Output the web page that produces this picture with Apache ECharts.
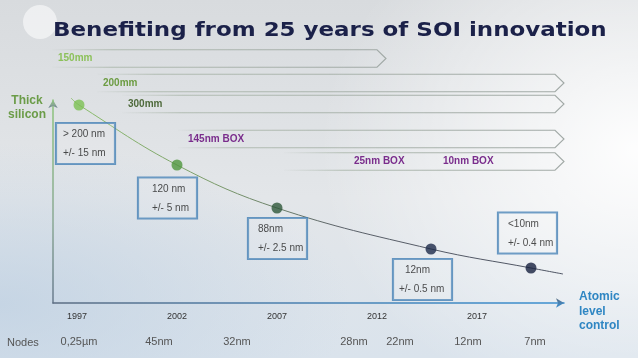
<!DOCTYPE html>
<html><head><meta charset="utf-8">
<script src="https://cdn.jsdelivr.net/npm/echarts@6/dist/echarts.min.js"></script>
<style>
html,body{margin:0;padding:0;width:638px;height:358px;overflow:hidden;}
body{background:
 radial-gradient(ellipse 50% 75% at 100% 42%, rgba(255,255,255,0.95), rgba(255,255,255,0) 100%),
 radial-gradient(ellipse 55% 45% at 0% 85%, rgba(190,208,226,0.75), rgba(190,208,226,0) 100%),
 linear-gradient(180deg,#d8dbde 0%,#e3e6e9 55%,#dae3ec 100%);}
#chart{width:638px;height:358px;}
</style></head><body><div id="chart"></div>
<script>
// ---- data ----
const yearTicks = [1997, 2002, 2007, 2012, 2017];
const milestoneYears = [1997.1, 2002, 2007, 2014.7, 2019.7];
const milestoneLevel = [198, 138, 95, 54, 35];
const milestoneThickness = ['> 200 nm', '120 nm', '88nm', '12nm', '<10nm'];
const milestoneTolerance = ['+/- 15 nm', '+/- 5 nm', '+/- 2.5 nm', '+/- 0.5 nm', '+/- 0.4 nm'];
const curveStart = [1996.7, 205];
const curveEnd = [2021.3, 29];
const nodeLabels = ['0,25µm', '45nm', '32nm', '28nm', '22nm', '12nm', '7nm'];
const nodeYears = [1997.1, 2001.1, 2005.0, 2010.85, 2013.15, 2016.55, 2019.9];
const waferLabels = ['150mm', '200mm', '300mm'];
const waferStart = [1996.05, 1998.3, 1999.55];
const waferEnd = [2012.0, 2020.9, 2020.9];
const boxLabels = ['145nm BOX', '25nm BOX', '10nm BOX'];
const boxStart = [2002.55, 2010.85, 2015.3];
const boxEnd = [2020.9, 2020.9, 2020.9];

// ---- layout / style ----
const FONT = 'Liberation Sans, Arial, sans-serif';
const ROW_Y = [58.5, 83, 104, 139, 161.5];
const ROW_H = 17.5;
const waferRow = [0, 1, 2];
const boxRow = [3, 4, 4];
const boxDrawArrow = [1, 1, 0];
const waferLead = [6, 6, 6];
const boxLead = [10, 70, 0];
const waferColors = ['#8cc15a', '#6c9c42', '#4e6a3b'];
const boxColor = '#7a2d8c';
const pointColors = ['#7cc152', '#4f963d', '#2e573a', '#1d2a4a', '#17203f'];
const boxLayout = [
  {dx: -23, dy: 38.5, i1: 7, i2: 7},
  {dx: -39, dy: 33, i1: 14, i2: 14},
  {dx: -29, dy: 30.5, i1: 10, i2: 10},
  {dx: -38, dy: 30.5, i1: 12, i2: 6},
  {dx: -33, dy: -35, i1: 10, i2: 10}
];

const eraData = [];
waferLabels.forEach((l, i) => eraData.push({value: [waferStart[i], waferEnd[i], waferRow[i], 1, waferLead[i]], name: l, color: waferColors[i]}));
boxLabels.forEach((l, i) => eraData.push({value: [boxStart[i], boxEnd[i], boxRow[i], boxDrawArrow[i], boxLead[i]], name: l, color: boxColor}));

const curveData = [curveStart].concat(milestoneYears.map((y, i) => [y, milestoneLevel[i]])).concat([curveEnd]);
const pointData = milestoneYears.map((y, i) => {
  const b = boxLayout[i];
  return {
    value: [y, milestoneLevel[i]],
    itemStyle: {color: pointColors[i]},
    label: {
      show: true, position: 'inside', align: 'left', verticalAlign: 'middle',
      offset: [b.dx, b.dy], width: 59, height: 38, padding: [2, 0, 1, 0],
      borderColor: '#4581b5', borderWidth: 1.1, backgroundColor: 'rgba(255,255,255,0.12)',
      formatter: '{a|' + milestoneThickness[i] + '}\n{b|' + milestoneTolerance[i] + '}',
      rich: {
        a: {fontSize: 10, color: '#222', lineHeight: 19, fontFamily: FONT, padding: [0, 0, 0, b.i1]},
        b: {fontSize: 10, color: '#222', lineHeight: 19, fontFamily: FONT, padding: [0, 0, 0, b.i2]}
      }
    }
  };
});

const chart = echarts.init(document.getElementById('chart'), null, {renderer: 'canvas'});
const XMIN = 1995.8, XMAX = 2021.35;
chart.setOption({
  animation: false,
  backgroundColor: 'transparent',
  grid: {left: 53, right: 74, top: 100, bottom: 55},
  xAxis: [{
    type: 'value', min: XMIN, max: XMAX,
    axisLine: {show: true, symbol: ['none', 'arrow'], symbolSize: [7, 8],
      lineStyle: {width: 1.5, color: new echarts.graphic.LinearGradient(0, 0, 1, 0, [
        {offset: 0, color: '#5d6d82'}, {offset: 0.45, color: '#4a7fae'}, {offset: 1, color: '#3a8fd0'}])}},
    axisTick: {show: false}, splitLine: {show: false},
    axisLabel: {customValues: yearTicks, color: '#333', fontSize: 9, margin: 9, fontFamily: FONT,
      formatter: v => String(Math.round(v))}
  }, {
    type: 'value', min: XMIN, max: XMAX, position: 'bottom',
    axisLine: {show: false}, axisTick: {show: false}, splitLine: {show: false},
    axisLabel: {customValues: nodeYears, color: '#555', fontSize: 11, margin: 33, fontFamily: FONT,
      formatter: v => {
        let best = 0;
        nodeYears.forEach((y, i) => { if (Math.abs(y - v) < Math.abs(nodeYears[best] - v)) best = i; });
        return nodeLabels[best];
      }}
  }],
  yAxis: {
    type: 'value', min: 0, max: 203,
    axisLine: {show: true, symbol: ['none', 'arrow'], symbolSize: [7, 8],
      lineStyle: {width: 1.5, color: new echarts.graphic.LinearGradient(0, 0, 0, 1, [
        {offset: 0, color: '#8cc47a'}, {offset: 0.6, color: '#8aa894'}, {offset: 1, color: '#66788c'}])}},
    axisTick: {show: false}, axisLabel: {show: false}, splitLine: {show: false}
  },
  series: [{
    type: 'custom', xAxisIndex: 0, yAxisIndex: 0, clip: false, silent: true, z: 1,
    data: eraData,
    renderItem: function (params, api) {
      const s = api.coord([api.value(0), 0])[0];
      const e = api.coord([api.value(1), 0])[0];
      const row = api.value(2);
      const draw = api.value(3);
      const lead = api.value(4);
      const item = eraData[params.dataIndex];
      const y = ROW_Y[row];
      const children = [{
        type: 'text', z2: 5,
        style: {text: item.name, x: s, y: y, align: 'left', verticalAlign: 'middle',
          fill: item.color, font: 'bold 10px ' + FONT}
      }];
      if (draw) {
        const x0 = s - lead;
        const top = y - ROW_H / 2, bot = y + ROW_H / 2;
        const w = e + 9 - x0;
        children.push({
          type: 'polyline', z2: 1,
          shape: {points: [[x0, top], [e, top], [e + 9, y], [e, bot], [x0, bot]]},
          style: {fill: null, lineWidth: 1.1,
            stroke: new echarts.graphic.LinearGradient(0, 0, 1, 0, [
              {offset: 0, color: 'rgba(170,182,170,0)'},
              {offset: Math.min(0.9, 60 / w), color: 'rgba(170,182,170,0.85)'},
              {offset: 1, color: 'rgba(160,168,165,1)'}])}
        });
      }
      return {type: 'group', children: children};
    }
  }, {
    type: 'line', xAxisIndex: 0, yAxisIndex: 0, data: curveData, smooth: 0.4,
    symbol: 'none', clip: false, silent: true, z: 2,
    lineStyle: {width: 1, color: new echarts.graphic.LinearGradient(0, 0, 1, 0, [
      {offset: 0, color: '#8cbf6c'}, {offset: 0.3, color: '#7a9a6a'},
      {offset: 0.55, color: '#5a6068'}, {offset: 1, color: '#4c5262'}])}
  }, {
    type: 'scatter', xAxisIndex: 0, yAxisIndex: 0, data: pointData, symbolSize: 11,
    silent: true, z: 3
  }],
  graphic: [
    {type: 'circle', shape: {cx: 40, cy: 22, r: 17}, style: {fill: 'rgba(255,255,255,0.55)'}, z: 0},
    {type: 'text', x: 53, y: 31, scaleX: 1.148, scaleY: 1,
      style: {text: 'Benefiting from 25 years of SOI innovation', x: 0, y: 0,
      verticalAlign: 'middle', fill: '#1b2149', font: 'bold 20px "DejaVu Sans", sans-serif'}},
    {type: 'text', style: {text: 'Thick\nsilicon', x: 27, y: 108, align: 'center', verticalAlign: 'middle',
      lineHeight: 14, fill: '#6b9c48', font: 'bold 12px ' + FONT}},
    {type: 'text', style: {text: 'Atomic\nlevel\ncontrol', x: 579, y: 311.5, align: 'left', verticalAlign: 'middle',
      lineHeight: 14.5, fill: '#2f86c3', font: 'bold 12px ' + FONT}},
    {type: 'text', style: {text: 'Nodes', x: 7, y: 343, align: 'left', verticalAlign: 'middle',
      fill: '#555', font: '11px ' + FONT}}
  ]
});
</script></body></html>
